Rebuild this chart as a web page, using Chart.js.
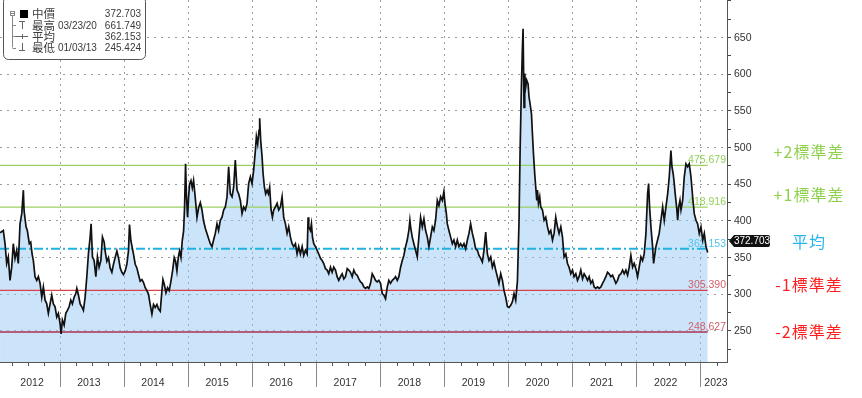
<!DOCTYPE html>
<html><head><meta charset="utf-8">
<script src="https://cdn.jsdelivr.net/npm/chart.js@4.4.1/dist/chart.umd.min.js"></script>
<style>html,body{margin:0;padding:0;background:#fff;overflow:hidden}canvas{display:block}</style>
</head><body>
<canvas id="c" width="862" height="398"></canvas>
<script>
// ---- data (decimal year, value) ----
const dates = [
2012.063,2012.114,2012.141,2012.167,2012.192,2012.219,2012.245,2012.270,2012.297,2012.323,2012.348,2012.375,2012.402,2012.427,2012.438,2012.469,2012.489,2012.520,2012.542,2012.563,
2012.583,2012.609,2012.636,2012.661,2012.688,2012.714,2012.739,2012.766,2012.792,2012.817,2012.844,2012.870,2012.895,2012.922,2012.948,2012.973,2013.000,2013.016,2013.036,2013.063,
2013.089,2013.114,2013.141,2013.167,2013.192,2013.219,2013.245,2013.261,2013.286,2013.313,2013.339,2013.364,2013.391,2013.417,2013.442,2013.469,2013.484,2013.505,2013.531,2013.558,
2013.583,2013.609,2013.636,2013.661,2013.688,2013.703,2013.730,2013.755,2013.781,2013.808,2013.833,2013.859,2013.886,2013.911,2013.938,2013.964,2013.989,2014.016,2014.042,2014.067,
2014.083,2014.105,2014.125,2014.145,2014.172,2014.198,2014.223,2014.250,2014.277,2014.302,2014.328,2014.355,2014.380,2014.406,2014.433,2014.458,2014.484,2014.511,2014.536,2014.563,
2014.589,2014.605,2014.625,2014.652,2014.677,2014.703,2014.730,2014.755,2014.781,2014.802,2014.823,2014.844,2014.864,2014.886,2014.906,2014.927,2014.942,2014.958,2014.973,2014.989,
2015.005,2015.020,2015.042,2015.063,2015.083,2015.109,2015.136,2015.161,2015.188,2015.214,2015.239,2015.266,2015.292,2015.317,2015.344,2015.370,2015.395,2015.422,2015.448,2015.473,
2015.500,2015.527,2015.552,2015.578,2015.605,2015.630,2015.656,2015.683,2015.708,2015.734,2015.761,2015.786,2015.813,2015.839,2015.864,2015.891,2015.917,2015.942,2015.969,2015.995,
2016.020,2016.047,2016.063,2016.083,2016.105,2016.114,2016.130,2016.152,2016.167,2016.188,2016.208,2016.230,2016.250,2016.270,2016.292,2016.313,2016.333,2016.359,2016.386,2016.411,
2016.438,2016.464,2016.489,2016.516,2016.542,2016.567,2016.594,2016.620,2016.645,2016.672,2016.698,2016.723,2016.750,2016.777,2016.802,2016.828,2016.855,2016.870,2016.880,2016.906,
2016.922,2016.938,2016.958,2016.984,2017.011,2017.036,2017.063,2017.089,2017.114,2017.141,2017.167,2017.192,2017.219,2017.245,2017.270,2017.297,2017.323,2017.348,2017.375,2017.402,
2017.427,2017.453,2017.480,2017.505,2017.531,2017.558,2017.583,2017.609,2017.636,2017.661,2017.688,2017.714,2017.739,2017.766,2017.792,2017.817,2017.844,2017.870,2017.895,2017.922,
2017.948,2017.973,2018.000,2018.027,2018.052,2018.078,2018.105,2018.130,2018.156,2018.183,2018.208,2018.234,2018.261,2018.286,2018.313,2018.339,2018.364,2018.391,2018.417,2018.442,
2018.458,2018.469,2018.495,2018.520,2018.547,2018.573,2018.598,2018.625,2018.652,2018.677,2018.703,2018.730,2018.755,2018.781,2018.808,2018.833,2018.859,2018.886,2018.911,2018.938,
2018.964,2018.989,2019.005,2019.027,2019.042,2019.067,2019.094,2019.120,2019.145,2019.172,2019.198,2019.223,2019.250,2019.277,2019.302,2019.328,2019.355,2019.380,2019.406,2019.433,
2019.458,2019.484,2019.511,2019.536,2019.563,2019.589,2019.614,2019.641,2019.667,2019.692,2019.719,2019.745,2019.770,2019.797,2019.823,2019.848,2019.875,2019.902,2019.927,2019.953,
2019.980,2020.005,2020.031,2020.058,2020.083,2020.109,2020.136,2020.161,2020.177,2020.198,2020.214,2020.224,2020.239,2020.250,2020.266,2020.281,2020.302,2020.317,2020.333,2020.355,
2020.370,2020.386,2020.406,2020.422,2020.438,2020.448,2020.464,2020.484,2020.500,2020.527,2020.552,2020.578,2020.605,2020.630,2020.656,2020.683,2020.708,2020.734,2020.761,2020.786,
2020.813,2020.839,2020.864,2020.891,2020.917,2020.942,2020.969,2020.995,2021.020,2021.047,2021.073,2021.098,2021.125,2021.152,2021.177,2021.203,2021.230,2021.255,2021.281,2021.308,
2021.333,2021.359,2021.386,2021.411,2021.438,2021.464,2021.489,2021.516,2021.542,2021.567,2021.594,2021.620,2021.645,2021.672,2021.698,2021.723,2021.750,2021.777,2021.802,2021.828,
2021.855,2021.880,2021.906,2021.933,2021.958,2021.984,2022.011,2022.036,2022.063,2022.089,2022.114,2022.141,2022.167,2022.183,2022.198,2022.219,2022.245,2022.261,2022.281,2022.297,
2022.323,2022.348,2022.375,2022.402,2022.427,2022.453,2022.480,2022.505,2022.531,2022.547,2022.567,2022.583,2022.598,2022.620,2022.636,2022.652,2022.672,2022.688,2022.714,2022.739,
2022.766,2022.792,2022.817,2022.844,2022.870,2022.895,2022.922,2022.948,2022.973,2023.000,2023.027,2023.052,2023.078,2023.105
];
const values = [
384,387,369,342,351,319,337,369,349,360,342,396,410,442,414,392,387,369,371,355,
346,324,319,324,315,296,310,292,287,274,287,299,287,283,269,274,260,246,265,258,
274,278,283,292,287,296,301,308,299,287,283,278,296,324,355,378,396,351,346,324,
351,337,346,378,371,359,345,350,336,330,341,350,359,350,336,330,327,332,341,359,
395,373,364,355,341,336,327,318,320,316,309,305,300,286,273,286,282,286,280,277,
305,320,314,302,309,305,318,332,350,345,332,350,359,350,373,386,418,478,432,405,
432,450,455,445,455,432,405,418,425,415,400,390,383,376,369,365,374,383,396,387,
401,405,415,419,433,474,437,433,446,483,442,437,428,410,419,415,424,451,460,451,
469,496,515,505,524,540,510,487,465,446,437,442,437,446,415,405,415,419,424,415,
419,433,405,396,383,392,378,369,365,369,355,365,355,365,353,360,355,405,392,387,
396,378,369,365,360,355,349,346,342,335,333,328,337,330,337,333,324,319,324,328,
321,324,335,333,330,324,333,328,326,321,317,315,310,308,310,308,315,328,324,319,
317,319,315,301,299,294,310,319,315,319,321,324,319,324,337,346,353,365,374,387,
401,392,378,369,360,351,378,405,392,403,387,378,365,378,392,387,401,428,421,433,
428,440,424,410,396,387,378,369,374,365,374,365,369,365,369,362,374,383,396,383,
374,362,360,353,349,344,360,385,355,346,351,337,344,333,324,315,328,319,305,296,
283,282,285,290,301,292,318,400,492,583,637,662,555,601,583,592,587,569,560,546,
519,492,464,446,428,442,424,433,419,415,401,405,392,383,387,374,383,405,392,383,
392,378,351,355,342,337,328,333,324,328,319,324,333,321,328,324,319,324,315,319,
310,308,310,308,310,315,319,324,330,328,324,326,321,315,319,326,328,333,328,333,
326,337,353,337,342,335,324,337,351,346,355,383,437,451,419,392,365,342,355,365,
374,383,401,419,401,419,437,460,496,474,464,451,437,419,401,419,428,415,428,460,
478,474,478,460,433,410,401,396,383,392,374,383,365,357
];
const yearLabels = ['2012','2013','2014','2015','2016','2017','2018','2019','2020','2021','2022','2023'];
const yTickLabels = [250,300,350,400,450,500,550,600,650];
const refLevels = [475.679, 418.916, 362.153, 305.390, 248.627];
const refLevelLabels = ['475.679','418.916','362.153','305.390','248.627'];
const sideLabels = ['+2標準差','+1標準差','平均','-1標準差','-2標準差'];
const legendNames = ['中價','最高','平均','最低'];
const legendDates = ['','03/23/20','','01/03/13'];
const legendValues = ['372.703','661.749','362.153','245.424'];
const lastPrice = 372.703;
const xMin = 2012.0625, xMax = 2023.406;

// ---- styles ----
const FONT = '"Liberation Sans", Arial, sans-serif';
const CJK = '"Noto Sans CJK TC", "Noto Sans CJK SC", sans-serif';
const refLineColors = ['#9bd162','#9bd162','#22b2e2','#d8434b','#b03050'];
const refTextColors = ['#94d05a','#94d05a','#4dc4ec','#d2606a','#d2606a'];
const sideColors = ['#8fd04e','#8fd04e','#2ab4ee','#ff1f1f','#ff1f1f'];
const sideOffsets = [-14,-12,-7,-5,0];

const lastDate = dates[dates.length-1];
const refDatasets = refLevels.map((lv,i)=>({
  data:[{x:xMin,y:lv},{x:lastDate,y:lv}],
  borderColor: refLineColors[i],
  borderWidth: i===2 ? 2 : 1.3,
  borderDash: i===2 ? [9,3,2,3] : [],
  pointRadius:0, fill:false, tension:0
}));

const overlay = {
  id:'overlay',
  beforeDatasetsDraw(chart){
    const {ctx, chartArea:a, scales:{y}} = chart;
    ctx.save();
    ctx.font = '10.5px ' + FONT; ctx.textAlign='right'; ctx.textBaseline='alphabetic';
    refLevels.forEach((lv,i)=>{ ctx.fillStyle = refTextColors[i]; ctx.fillText(refLevelLabels[i], a.right-1, y.getPixelForValue(lv)-2); });
    ctx.restore();
  },
  afterDraw(chart){
    const {ctx, chartArea:a, scales:{x,y}} = chart;
    ctx.save();
    // quarterly ticks
    ctx.strokeStyle='#555'; ctx.lineWidth=1;
    yearLabels.forEach(l=>{ const yr=+l; for(let q=1;q<4;q++){ const v=yr+q/4; if(v<=x.min||v>=x.max) continue;
      const px=Math.round(x.getPixelForValue(v))+0.5; ctx.beginPath(); ctx.moveTo(px,a.bottom); ctx.lineTo(px,a.bottom+4); ctx.stroke(); }});
    // year labels
    ctx.fillStyle='#333'; ctx.font='10.5px '+FONT; ctx.textAlign='center'; ctx.textBaseline='middle';
    yearLabels.forEach(l=>{ const yr=+l; const lo=Math.max(yr,x.min), hi=Math.min(yr+1,x.max);
      let c = (lo===yr && hi===yr+1) ? x.getPixelForValue(yr+0.45) : (x.getPixelForValue(lo)+x.getPixelForValue(hi))/2+2;
      ctx.fillText(l, c, a.bottom+21); });
    // side labels
    ctx.font='16px '+CJK; ctx.textAlign='center'; ctx.textBaseline='middle';
    try{ ctx.letterSpacing='1px'; }catch(e){}
    refLevels.forEach((lv,i)=>{ ctx.fillStyle=sideColors[i]; ctx.fillText(sideLabels[i], a.right+82, y.getPixelForValue(lv)+sideOffsets[i]); });
    try{ ctx.letterSpacing='0px'; }catch(e){}
    // last price tag
    const py = y.getPixelForValue(lastPrice);
    ctx.fillStyle='#111';
    ctx.beginPath(); ctx.moveTo(a.right+2, py); ctx.lineTo(a.right+7, py-6); ctx.lineTo(a.right+41, py-6);
    ctx.quadraticCurveTo(a.right+43, py-6, a.right+43, py-4); ctx.lineTo(a.right+43, py+4);
    ctx.quadraticCurveTo(a.right+43, py+6, a.right+41, py+6); ctx.lineTo(a.right+7, py+6); ctx.closePath(); ctx.fill();
    ctx.fillStyle='#fff'; ctx.font='10px '+FONT; ctx.textAlign='center';
    ctx.fillText(lastPrice.toFixed(3), a.right+25, py+0.5);
    // legend box
    const bx=3, by=-4, bw=142, bh=63, r=5;
    ctx.fillStyle='#fff'; ctx.strokeStyle='#555'; ctx.lineWidth=1;
    ctx.beginPath(); ctx.moveTo(bx+r+0.5,by+0.5); ctx.lineTo(bx+bw-r+0.5,by+0.5); ctx.arcTo(bx+bw+0.5,by+0.5,bx+bw+0.5,by+r+0.5,r);
    ctx.lineTo(bx+bw+0.5,by+bh-r+0.5); ctx.arcTo(bx+bw+0.5,by+bh+0.5,bx+bw-r+0.5,by+bh+0.5,r);
    ctx.lineTo(bx+r+0.5,by+bh+0.5); ctx.arcTo(bx+0.5,by+bh+0.5,bx+0.5,by+bh-r+0.5,r);
    ctx.lineTo(bx+0.5,by+r+0.5); ctx.arcTo(bx+0.5,by+0.5,bx+r+0.5,by+0.5,r); ctx.closePath(); ctx.fill(); ctx.stroke();
    const rows=[14,25.3,36.3,47.5];
    // tree lines
    ctx.strokeStyle='#888'; ctx.lineWidth=1;
    ctx.strokeRect(10.5,11.5,4,4);
    ctx.beginPath(); ctx.moveTo(11,13.5); ctx.lineTo(14,13.5); ctx.stroke();
    ctx.beginPath(); ctx.moveTo(12.5,16); ctx.lineTo(12.5,47.5); ctx.stroke();
    [25.3,36.3,47.5].forEach(ry=>{ ctx.beginPath(); ctx.moveTo(12.5,Math.round(ry)+0.5); ctx.lineTo(16,Math.round(ry)+0.5); ctx.stroke(); });
    ctx.fillStyle='#000'; ctx.fillRect(20,10,8,8);
    ctx.strokeStyle='#666';
    ctx.beginPath(); ctx.moveTo(19,21.5); ctx.lineTo(25,21.5); ctx.moveTo(22.5,21.5); ctx.lineTo(22.5,29); ctx.stroke();
    ctx.beginPath(); ctx.moveTo(16,36.5); ctx.lineTo(28,36.5); ctx.moveTo(22.5,34); ctx.lineTo(22.5,39); ctx.stroke();
    ctx.beginPath(); ctx.moveTo(22.5,43); ctx.lineTo(22.5,50.5); ctx.moveTo(19,50.5); ctx.lineTo(25,50.5); ctx.stroke();
    ctx.fillStyle='#3a3a3a'; ctx.textBaseline='middle';
    rows.forEach((ry,i)=>{
      ctx.textAlign='left'; ctx.font='11.5px '+CJK; ctx.fillText(legendNames[i], 32, ry);
      ctx.font='10px '+FONT;
      if(legendDates[i]) ctx.fillText(legendDates[i], 58, ry+0.5);
      ctx.textAlign='right'; ctx.fillText(legendValues[i], 141, ry+0.5);
    });
    ctx.restore();
  }
};

new Chart(document.getElementById('c'), {
  type:'line',
  data:{ datasets:[
    { data: dates.map((d,i)=>({x:d,y:values[i]})), borderColor:'#111', borderWidth:1.7,
      backgroundColor:'rgba(153,201,245,0.5)', fill:'start', pointRadius:0, tension:0 },
    ...refDatasets
  ]},
  options:{
    responsive:false, animation:false, devicePixelRatio:1,
    layout:{padding:0},
    plugins:{ legend:{display:false}, tooltip:{enabled:false}, filler:{drawTime:'beforeDatasetsDraw'} },
    scales:{
      x:{ type:'linear', min:xMin, max:xMax,
        afterBuildTicks:s=>{ s.ticks = yearLabels.slice(1).map(l=>({value:+l})); },
        afterFit:s=>{ s.height=36; s.paddingLeft=0; s.paddingRight=0; },
        ticks:{display:false},
        grid:{ color:'#9a9a9a', lineWidth:1, drawTicks:true, tickLength:25, tickColor:'#8a8a8a', tickWidth:1 },
        border:{ display:true, color:'#555', width:1, dash:[2,4] }
      },
      y:{ type:'linear', position:'right', min:207.7, max:701.3,
        afterBuildTicks:s=>{ const t=[]; for(let v=225; v<=700; v+=25) t.push({value:v}); s.ticks=t; },
        afterFit:s=>{ s.width=135; s.paddingTop=0; s.paddingBottom=0; },
        ticks:{ color:'#333', font:{size:10.5, family:FONT}, padding:3, callback:v=> yTickLabels.includes(v) ? String(v) : '' },
        grid:{ color:c=> (c.tick && yTickLabels.includes(c.tick.value)) ? '#9a9a9a' : 'rgba(0,0,0,0)', lineWidth:1, drawTicks:true, tickLength:4, tickColor:'#444', tickWidth:1 },
        border:{ display:true, color:'#555', width:1, dash:[2,5] }
      }
    }
  },
  plugins:[overlay]
});
</script>
</body></html>
